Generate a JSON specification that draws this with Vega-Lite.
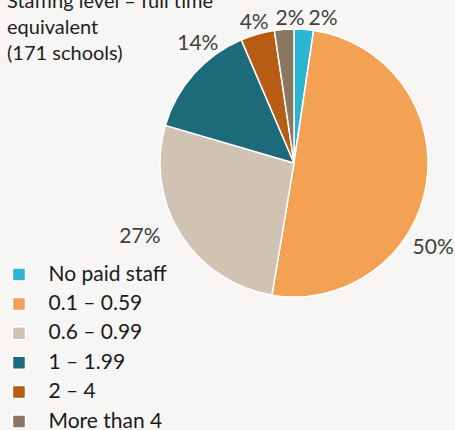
{
  "$schema": "https://vega.github.io/schema/vega-lite/v6.json",
  "width": 268,
  "height": 270,
  "autosize": {"type": "none"},
  "padding": {"left": 160, "top": 28, "right": 27, "bottom": 132},
  "background": "#f7f6f4",
  "title": {
    "text": ["Staffing level – full time", "equivalent", "(171 schools)"],
    "anchor": "start",
    "frame": "group",
    "orient": "top",
    "offset": 0,
    "dx": -153,
    "dy": 81,
    "baseline": "top",
    "lineHeight": 26,
    "font": "Lato",
    "fontSize": 20,
    "fontWeight": "normal",
    "color": "#1e1e1e"
  },
  "data": {
    "values": [
      {"cat": "No paid staff", "schools": 4, "rank": 1, "label": "2%"},
      {"cat": "0.1 – 0.59", "schools": 86, "rank": 2, "label": "50%"},
      {"cat": "0.6 – 0.99", "schools": 46, "rank": 3, "label": "27%"},
      {"cat": "1 – 1.99", "schools": 24, "rank": 4, "label": "14%"},
      {"cat": "2 – 4", "schools": 7, "rank": 5, "label": "4%"},
      {"cat": "More than 4", "schools": 4, "rank": 6, "label": "2%"}
    ]
  },
  "encoding": {
    "theta": {"field": "schools", "type": "quantitative", "stack": true},
    "order": {"field": "rank", "type": "quantitative"}
  },
  "layer": [
    {
      "mark": {"type": "arc", "stroke": "#ffffff", "strokeWidth": 1.5},
      "encoding": {
        "color": {
          "field": "cat",
          "type": "nominal",
          "scale": {
            "domain": ["No paid staff", "0.1 – 0.59", "0.6 – 0.99", "1 – 1.99", "2 – 4", "More than 4"],
            "range": ["#2bb5d2", "#f3a253", "#d0c3b4", "#1c6a7a", "#b75d13", "#8b7660"]
          },
          "legend": {
            "title": null,
            "orient": "none",
            "legendX": -151.5,
            "legendY": 236,
            "symbolType": "square",
            "symbolSize": 169,
            "symbolOpacity": 1,
            "labelFont": "Lato",
            "labelFontSize": 21,
            "labelColor": "#1a1a1a",
            "labelOffset": 19,
            "rowPadding": 7.4,
            "padding": 0,
            "encode": {
              "symbols": {
                "update": {
                  "stroke": [
                    {"test": "datum.value === '0.1 – 0.59' || datum.value === '1 – 1.99'", "value": "#1a1a1a"},
                    {"value": "transparent"}
                  ],
                  "strokeWidth": {"value": 1.2}
                }
              }
            }
          }
        }
      }
    },
    {
      "mark": {"type": "text", "radius": 150, "font": "Lato", "fontSize": 21, "color": "#404040", "dx": 18, "dy": 6},
      "encoding": {"text": {"condition": {"test": "datum.rank == 1", "field": "label"}, "value": ""}}
    },
    {
      "mark": {"type": "text", "radius": 150, "font": "Lato", "fontSize": 21, "color": "#404040", "dx": -9, "dy": 62},
      "encoding": {"text": {"condition": {"test": "datum.rank == 2", "field": "label"}, "value": ""}}
    },
    {
      "mark": {"type": "text", "radius": 150, "font": "Lato", "fontSize": 21, "color": "#404040", "dx": -27, "dy": -6},
      "encoding": {"text": {"condition": {"test": "datum.rank == 3", "field": "label"}, "value": ""}}
    },
    {
      "mark": {"type": "text", "radius": 150, "font": "Lato", "fontSize": 21, "color": "#404040", "dx": 16, "dy": -19},
      "encoding": {"text": {"condition": {"test": "datum.rank == 4", "field": "label"}, "value": ""}}
    },
    {
      "mark": {"type": "text", "radius": 150, "font": "Lato", "fontSize": 21, "color": "#404040", "dx": 1, "dy": 4},
      "encoding": {"text": {"condition": {"test": "datum.rank == 5", "field": "label"}, "value": ""}}
    },
    {
      "mark": {"type": "text", "radius": 150, "font": "Lato", "fontSize": 21, "color": "#404040", "dx": 7, "dy": 6},
      "encoding": {"text": {"condition": {"test": "datum.rank == 6", "field": "label"}, "value": ""}}
    }
  ],
  "config": {"view": {"stroke": null}}
}
